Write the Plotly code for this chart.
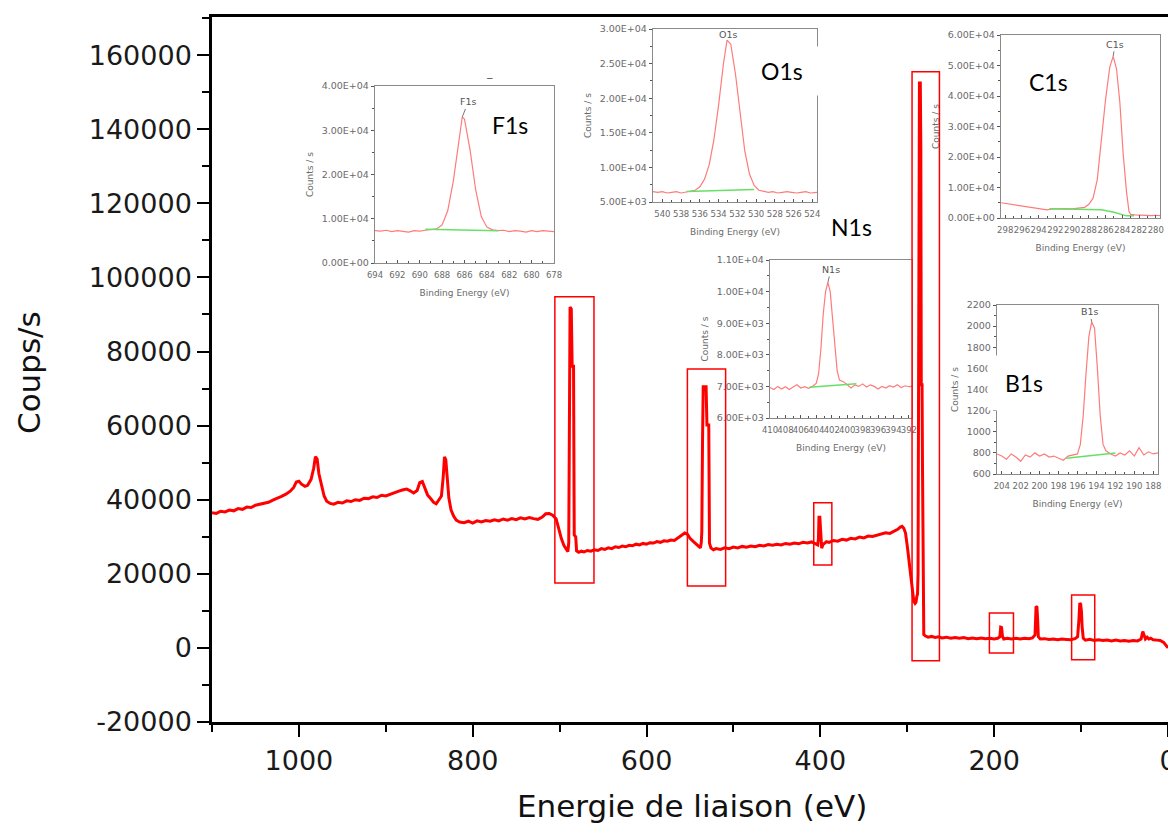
import plotly.graph_objects as go

# ---------------- main survey spectrum ----------------
ev_main = [1100, 1095, 1090, 1085, 1080, 1075, 1070, 1065, 1060, 1055, 1050, 1045, 1040, 1035, 1030, 1025,
           1020, 1015, 1010, 1006, 1003, 1000, 997, 993, 990, 986, 983, 981, 979, 977, 974, 971, 968, 964,
           960, 955, 950, 945, 940, 935, 930, 925, 920, 915, 910, 905, 900, 895, 890, 885, 880, 876, 872,
           868, 864, 861, 858, 855, 852, 848, 845, 842, 839, 836, 834, 832.5, 831, 829.5, 827.5, 825, 822,
           819, 815, 810, 805, 800, 795, 790, 785, 780, 775, 770, 765, 760, 755, 750, 745, 740, 735, 730,
           725, 720, 716, 712, 708, 704, 701, 698, 695, 692, 690.5, 689.5, 688.8, 688, 686.6, 685.6, 684,
           683.2, 681.5, 680.5, 678, 675, 672, 668, 664, 660, 656, 652, 648, 644, 640, 636, 632, 628, 624,
           620, 616, 612, 608, 604, 600, 596, 592, 588, 584, 580, 576, 572, 568, 564, 560, 556, 553, 550,
           546, 543, 540, 538, 537, 536.4, 535.6, 534.8, 531.5, 530.5, 528.4, 527.6, 526, 523, 520, 515,
           510, 505, 500, 495, 490, 485, 480, 475, 470, 465, 460, 455, 450, 445, 440, 435, 430, 425, 420,
           415, 410, 406, 403, 402.2, 401.6, 400.6, 400.1, 399.5, 398.5, 397, 393, 390, 385, 380, 375, 370,
           365, 360, 355, 350, 345, 340, 335, 330, 325, 320, 315, 311, 308, 306, 304, 302, 300, 298, 296,
           294, 292.5, 291, 290, 289, 288.2, 287.6, 287.2, 286.6, 286, 285, 284.4, 283.9, 283, 282.5, 281.8,
           281, 279, 276, 272, 268, 264, 260, 255, 250, 245, 240, 235, 230, 225, 220, 215, 210, 205, 200,
           196, 193.5, 192.5, 191.5, 190.5, 189, 185, 180, 175, 170, 165, 160, 156, 153, 151.8, 150.8, 150,
           149.2, 147, 142, 137, 132, 127, 122, 117, 112, 107, 104, 102.5, 101.5, 100.5, 99.6, 98.8, 97.5,
           95, 90, 85, 80, 75, 70, 65, 60, 55, 50, 45, 40, 35, 31, 29, 27.5, 26, 24, 22, 20, 17, 13, 9, 5,
           2, 0]
cps_main = [36500, 36300, 36900, 36700, 37200, 37000, 37600, 37400, 38000, 37900, 38500, 38700, 39100, 39300,
            39900, 40300, 40900, 41500, 42300, 43300, 44800, 45000, 44200, 43600, 43900, 45500, 48500, 51600,
            51000, 47000, 43500, 41000, 39600, 39000, 38800, 39300, 39100, 39700, 39500, 40000, 39800, 40400,
            40300, 40800, 40600, 41200, 41000, 41500, 41900, 42300, 42700, 42900, 42400, 41800, 42500, 44600,
            44900, 43200, 41300, 40200, 39300, 38900, 39800, 41000, 46000, 51600, 50800, 45800, 40500, 37300,
            35600, 34500, 34000, 33800, 34200, 33700, 34300, 34000, 34400, 34200, 34600, 34300, 34800, 34500,
            34900, 34600, 35100, 34800, 35200, 34900, 34700, 35300, 36200, 36300, 35800, 34800, 32000, 29500,
            27600, 26300, 26000, 28500, 67500, 92000, 91500, 76000, 76000, 30500, 30000, 26200, 25800, 26100,
            25900, 26300, 26100, 26500, 26300, 26800, 26600, 27000, 26800, 27300, 27100, 27500, 27300, 27700,
            27600, 28000, 27800, 28200, 28000, 28400, 28300, 28700, 28500, 28900, 28800, 29100, 29000, 29600,
            30200, 31000, 30700, 29600, 28700, 28000, 27300, 27000, 28500, 31400, 55300, 70500, 70500, 60200,
            60200, 28300, 27000, 26500, 26800, 26600, 27000, 26800, 27200, 27000, 27400, 27200, 27500, 27300,
            27700, 27500, 27900, 27700, 28000, 27800, 28200, 28000, 28300, 28100, 28500, 28300, 28600, 28100,
            27800, 29500, 35300, 35300, 32800, 28500, 26900, 27900, 28700, 28500, 29000, 28800, 29300, 29100,
            29600, 29400, 29900, 29700, 30200, 30100, 30500, 30700, 31100, 30900, 31400, 32000, 32600, 32800,
            32300, 31000, 27500, 23800, 19000, 14800, 12600, 12000, 12300, 13900, 14500, 20000, 49500, 134600,
            152500, 152500, 134600, 71000, 71000, 49500, 8000, 3600, 3200, 2900, 3100, 2800, 3000, 2700, 2900,
            2600, 2800, 2600, 2800, 2500, 2700, 2500, 2700, 2500, 2600, 2400, 2600, 3000, 5600, 5500, 3200,
            2400, 2600, 2400, 2600, 2400, 2600, 2500, 2700, 3500, 11200, 11000, 7600, 3000, 2400, 2500, 2300,
            2400, 2200, 2400, 2300, 2200, 2500, 3000, 7600, 12100, 11800, 9800, 5700, 2600, 2100, 2300, 2000,
            2200, 2000, 2100, 1900, 2100, 1900, 2000, 1800, 2000, 1900, 2400, 4400, 3600, 2400, 2900, 2400,
            2600, 2200, 2100, 2000, 1500, 700, 0]

x_tickvals = [1000, 800, 600, 400, 200, 0]
x_ticktext = ["1000", "800", "600", "400", "200", "0"]
y_tickvals = [-20000, 0, 20000, 40000, 60000, 80000, 100000, 120000, 140000, 160000]
y_ticktext = ["-20000", "0", "20000", "40000", "60000", "80000", "100000", "120000", "140000", "160000"]

# highlighted regions on survey: (eV high, eV low, counts low, counts high)
box_regions = [(705.5, 660.5, 17500, 94800),
               (553, 509, 16700, 75300),
               (407.6, 386.8, 22400, 39200),
               (294.5, 263, -3500, 155500),
               (205.5, 177.8, -1400, 9400),
               (110.9, 84.3, -3200, 14300)]

# ---------------- high resolution insets ----------------
f1s_ev = [694, 693.5, 693, 692.5, 692, 691.5, 691, 690.5, 690, 689.5, 689, 688.5, 688, 687.5, 687, 686.5,
          686.2, 686, 685.5, 685, 684.5, 684, 683.5, 683, 682.5, 682, 681.5, 681, 680.5, 680, 679.5, 679,
          678.5, 678]
f1s_cps = [7300, 7200, 7400, 7100, 7300, 7200, 7000, 7300, 7200, 7400, 7500, 7700, 8600, 11800, 18500, 28000,
           33000, 32500, 25500, 16500, 10500, 8100, 7500, 7300, 7400, 7100, 7300, 7200, 7000, 7300, 7100, 7300,
           7200, 7100]
f1s_bg_ev = [689.5, 687, 685, 683]
f1s_bg_cps = [7600, 7500, 7300, 7300]

o1s_ev = [541, 540.5, 540, 539.5, 539, 538.5, 538, 537.5, 537, 536.5, 536, 535.5, 535, 534.5, 534, 533.5,
          533.1, 532.7, 532.2, 531.7, 531.2, 530.7, 530.2, 529.7, 529.2, 528.7, 528.2, 527.7, 527.2, 526.7,
          526.2, 525.7, 525.2, 524.7, 524.2, 523.7, 523.5]
o1s_cps = [6500, 6400, 6500, 6300, 6400, 6500, 6300, 6400, 6500, 6700, 7200, 8300, 10400, 14000, 19000, 24800,
           28400, 27800, 23500, 17500, 12300, 9000, 7400, 6700, 6500, 6400, 6500, 6300, 6400, 6500, 6400, 6300,
           6400, 6500, 6300, 6400, 6400]
o1s_bg_ev = [537.4, 533, 530.2]
o1s_bg_cps = [6500, 6700, 6800]

c1s_ev = [298.5, 298, 297, 296, 295, 294, 293, 292.5, 292, 291, 290, 289, 288.5, 288, 287.5, 287, 286.5,
          286, 285.5, 285.1, 284.7, 284.3, 283.9, 283.5, 283.2, 283, 282.5, 282, 281.5, 281, 280.5, 280, 279.5]
c1s_cps = [5000, 4800, 4400, 4000, 3600, 3200, 2700, 2900, 3000, 3100, 3000, 3200, 3500, 4500, 6500, 12500,
           27000, 39000, 49500, 53000, 49000, 38000, 21000, 8500, 2000, 1200, 1000, 900, 800, 900, 800, 900, 800]
c1s_bg_ev = [292.7, 289, 286.5, 285, 283.5, 282.6]
c1s_bg_cps = [3000, 2900, 2700, 1900, 700, 700]

n1s_ev = [410, 409.5, 409, 408.5, 408, 407.5, 407, 406.5, 406, 405.5, 405, 404.5, 404, 403.7, 403.4, 403.1,
          402.8, 402.5, 402.2, 401.9, 401.6, 401.3, 401, 400.5, 400, 399.5, 399, 398.5, 398, 397.5, 397,
          396.5, 396, 395.5, 395, 394.5, 394, 393.5, 393, 392.5, 392, 391.6]
n1s_cps = [6960, 6900, 7000, 6920, 6990, 6900, 6980, 7050, 6950, 6990, 6940, 7000, 7100, 7400, 8200, 9300,
           10000, 10290, 10000, 9200, 8200, 7500, 7200, 7150, 7050, 6950, 7050, 7000, 7080, 6980, 7050, 7000,
           6920, 7000, 6950, 7020, 6980, 7050, 6960, 7020, 6990, 7000]
n1s_bg_ev = [404.9, 398.8]
n1s_bg_cps = [6970, 7080]

b1s_ev = [204.5, 204, 203.5, 203, 202.5, 202, 201.5, 201, 200.5, 200, 199.5, 199, 198.5, 198, 197.5, 197,
          196.5, 196, 195.7, 195.4, 195.1, 194.8, 194.5, 194.2, 193.9, 193.6, 193.3, 193, 192.5, 192, 191.5,
          191, 190.5, 190, 189.5, 189, 188.5, 188, 187.5]
b1s_cps = [790, 770, 740, 790, 760, 720, 780, 760, 800, 770, 790, 760, 770, 750, 730, 770, 780, 790, 880,
           1150, 1550, 1900, 2040, 1980, 1600, 1150, 880, 820, 790, 770, 800, 780, 820, 770, 850, 780, 810,
           790, 800]
b1s_bg_ev = [197.2, 192]
b1s_bg_cps = [750, 800]

f1s_yvals = [0, 10000, 20000, 30000, 40000]
f1s_ytext = ["0.00E+00", "1.00E+04", "2.00E+04", "3.00E+04", "4.00E+04"]
o1s_yvals = [5000, 10000, 15000, 20000, 25000, 30000]
o1s_ytext = ["5.00E+03", "1.00E+04", "1.50E+04", "2.00E+04", "2.50E+04", "3.00E+04"]
c1s_yvals = [0, 10000, 20000, 30000, 40000, 50000, 60000]
c1s_ytext = ["0.00E+00", "1.00E+04", "2.00E+04", "3.00E+04", "4.00E+04", "5.00E+04", "6.00E+04"]
n1s_yvals = [6000, 7000, 8000, 9000, 10000, 11000]
n1s_ytext = ["6.00E+03", "7.00E+03", "8.00E+03", "9.00E+03", "1.00E+04", "1.10E+04"]
b1s_yvals = [600, 800, 1000, 1200, 1400, 1600, 1800, 2000, 2200]
b1s_ytext = ["600", "800", "1000", "1200", "1400", "1600", "1800", "2000", "2200"]

f1s_xvals = [694, 692, 690, 688, 686, 684, 682, 680, 678]
o1s_xvals = [540, 538, 536, 534, 532, 530, 528, 526, 524]
c1s_xvals = [298, 296, 294, 292, 290, 288, 286, 284, 282, 280]
n1s_xvals = [410, 408, 406, 404, 402, 400, 398, 396, 394, 392]
b1s_xvals = [204, 202, 200, 198, 196, 194, 192, 190, 188]

# page offset (body margin) compensation
OFF = 8
W, H = 1176 - OFF, 832 - OFF


def px(x):
    return (x - OFF) / W


def py(y):
    return 1 - (y - OFF) / H


fig = go.Figure()
fig.add_trace(go.Scatter(x=ev_main, y=cps_main, mode="lines",
                         line=dict(color="#ff0000", width=3), xaxis="x", yaxis="y",
                         showlegend=False, hoverinfo="skip"))

insets = [
    dict(label="F1s", ev=f1s_ev, cps=f1s_cps, bgx=f1s_bg_ev, bgy=f1s_bg_cps, xr=[694, 678], yr=[0, 40000],
         xv=f1s_xvals, yv=f1s_yvals, yt=f1s_ytext, ymin=5000, dom=(375, 554, 86, 263),
         peak=(686.2, 33000), off=(6, -15)),
    dict(label="O1s", ev=o1s_ev, cps=o1s_cps, bgx=o1s_bg_ev, bgy=o1s_bg_cps, xr=[541, 523.5], yr=[5000, 30000],
         xv=o1s_xvals, yv=o1s_yvals, yt=o1s_ytext, ymin=2500, dom=(653, 817, 29, 202),
         peak=(533.1, 28400), off=(1, -6)),
    dict(label="C1s", ev=c1s_ev, cps=c1s_cps, bgx=c1s_bg_ev, bgy=c1s_bg_cps, xr=[298.5, 279.5], yr=[0, 60000],
         xv=c1s_xvals, yv=c1s_yvals, yt=c1s_ytext, ymin=5000, dom=(1001, 1160, 35, 218),
         peak=(285.1, 53000), off=(2, -12)),
    dict(label="N1s", ev=n1s_ev, cps=n1s_cps, bgx=n1s_bg_ev, bgy=n1s_bg_cps, xr=[410, 391.6], yr=[6000, 11000],
         xv=n1s_xvals, yv=n1s_yvals, yt=n1s_ytext, ymin=500, dom=(770, 912, 260, 418),
         peak=(402.5, 10290), off=(3, -13)),
    dict(label="B1s", ev=b1s_ev, cps=b1s_cps, bgx=b1s_bg_ev, bgy=b1s_bg_cps, xr=[204.5, 187.5], yr=[600, 2200],
         xv=b1s_xvals, yv=b1s_yvals, yt=b1s_ytext, ymin=100, dom=(997, 1158, 305, 474),
         peak=(194.5, 2040), off=(-2, -10)),
]

grey = "#8a8a8a"
lab = "#6a6a6a"
sfont = "DejaVu Sans"
annotations = []
layout_axes = {}
for i, ins in enumerate(insets, start=2):
    xn, yn = f"x{i}", f"y{i}"
    fig.add_trace(go.Scatter(x=ins["ev"], y=ins["cps"], mode="lines", line=dict(color="#ff7b7b", width=1.2),
                             xaxis=xn, yaxis=yn, showlegend=False, hoverinfo="skip"))
    fig.add_trace(go.Scatter(x=ins["bgx"], y=ins["bgy"], mode="lines", line=dict(color="#66e066", width=1.5),
                             xaxis=xn, yaxis=yn, showlegend=False, hoverinfo="skip"))
    x0, x1, y0, y1 = ins["dom"]
    layout_axes[f"xaxis{i}"] = dict(
        domain=[px(x0), px(x1)], anchor=yn, range=ins["xr"], showgrid=False, zeroline=False, automargin=False,
        showline=True, mirror=True, linecolor=grey, linewidth=1.4,
        tickmode="array", tickvals=ins["xv"], ticktext=[str(v) for v in ins["xv"]], tickangle=0,
        ticks="inside", ticklen=3, tickcolor="#555", tickwidth=1, ticklabelstandoff=4,
        ticklabeloverflow="allow",
        minor=dict(tickmode="linear", dtick=1, ticks="inside", ticklen=2, tickcolor="#555"),
        tickfont=dict(family=sfont, size=8.5, color=lab),
        title=dict(text="Binding Energy (eV)", font=dict(family=sfont, size=9, color=lab), standoff=10))
    layout_axes[f"yaxis{i}"] = dict(
        domain=[py(y1), py(y0)], anchor=xn, range=ins["yr"], showgrid=False, zeroline=False, automargin=False,
        showline=True, mirror=True, linecolor=grey, linewidth=1.4,
        tickmode="array", tickvals=ins["yv"], ticktext=ins["yt"],
        ticks="outside", ticklen=3, tickcolor="#555", tickwidth=1,
        minor=dict(tickmode="linear", dtick=ins["ymin"], ticks="outside", ticklen=2, tickcolor="#555"),
        tickfont=dict(family=sfont, size=9.5, color=lab),
        title=dict(text="Counts / s", font=dict(family=sfont, size=9, color=lab), standoff=6))
    annotations.append(dict(x=ins["peak"][0], y=ins["peak"][1], xref=xn, yref=yn, text=ins["label"],
                            showarrow=True, arrowhead=0, arrowwidth=1, arrowcolor="#777",
                            ax=ins["off"][0], ay=ins["off"][1],
                            font=dict(family=sfont, size=9.5, color="#555")))

# big labels
big = dict(family="Lato", size=23, color="black")
c = dict(xref="paper", yref="paper", showarrow=False, xanchor="center", yanchor="middle")
annotations += [
    dict(x=px(510), y=py(125), text="F1s", font=big, **c),
    dict(x=px(782), y=py(71), text="O1s", font=big, bgcolor="white", width=74, height=46, **c),
    dict(x=px(1048), y=py(82), text="C1s", font=big, **c),
    dict(x=px(851), y=py(227), text="N1s", font=big, **c),
    dict(x=px(1024), y=py(383), text="B1s", font=big, bgcolor="white", width=70, height=52, **c),
    dict(x=px(490), y=py(77), text="–", font=dict(family="Arial", size=10, color="#444"), **c),
    dict(x=px(29), y=py(373), text="Coups/s", textangle=-90, font=dict(family="DejaVu Sans", size=31, color="#111"), **c),
    dict(x=px(692), y=py(806), text="Energie de liaison (eV)", font=dict(family="DejaVu Sans", size=31, color="#111"), **c),
]

shapes = [dict(type="rect", xref="x", yref="y", x0=a, x1=b, y0=c0, y1=d,
               line=dict(color="#ff0000", width=1.5), fillcolor="rgba(0,0,0,0)")
          for (a, b, c0, d) in box_regions]

tickf = dict(family="DejaVu Sans", size=27, color="#1a1a1a")
fig.update_layout(
    template="none",
    width=W, height=H, margin=dict(l=0, r=0, t=0, b=0, autoexpand=False),
    paper_bgcolor="white", plot_bgcolor="rgba(0,0,0,0)",
    xaxis=dict(domain=[px(212), px(1168)], range=[1100, 0], showgrid=False, zeroline=False, automargin=False,
               showline=True, mirror=True, linecolor="black", linewidth=2.5,
               tickmode="array", tickvals=x_tickvals, ticktext=x_ticktext,
               ticks="outside", ticklen=12, tickwidth=2, tickcolor="black",
               minor=dict(tickmode="linear", tick0=0, dtick=100, ticks="outside", ticklen=7, tickwidth=2,
                          tickcolor="black"),
               tickfont=tickf, ticklabelstandoff=1, ticklabeloverflow="allow"),
    yaxis=dict(domain=[py(722), py(17)], range=[-20000, 170300], showgrid=False, zeroline=False, automargin=False,
               showline=True, mirror=True, linecolor="black", linewidth=2.5,
               tickmode="array", tickvals=y_tickvals, ticktext=y_ticktext,
               ticks="outside", ticklen=12, tickwidth=2, tickcolor="black",
               minor=dict(tickmode="linear", tick0=0, dtick=10000, ticks="outside", ticklen=7, tickwidth=2,
                          tickcolor="black"),
               tickfont=tickf, ticklabelstandoff=0),
    annotations=annotations, shapes=shapes, **layout_axes,
)

fig.write_html("out.html")
